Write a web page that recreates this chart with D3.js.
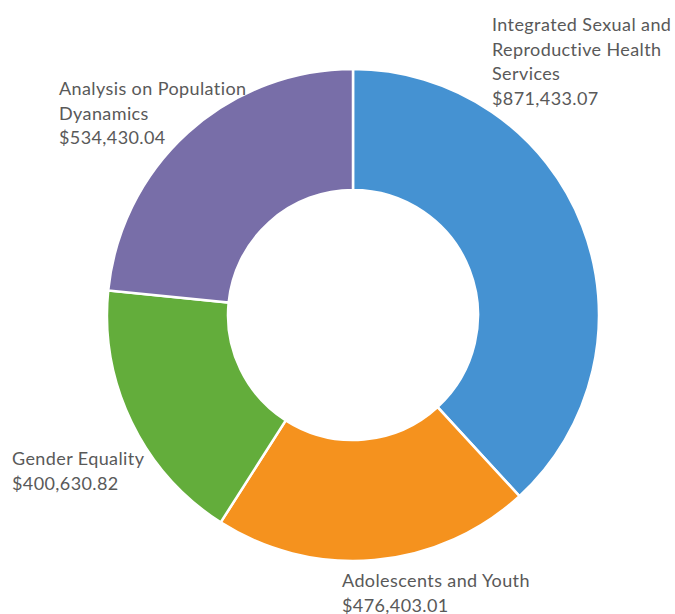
<!DOCTYPE html>
<html>
<head>
<meta charset="utf-8">
<script src="https://cdn.jsdelivr.net/npm/d3@7"></script>
<style>
  body { margin: 0; background: #fff; }
</style>
</head>
<body>
<div id="chart"></div>
<script>
// data
const categories = [
  "Integrated Sexual and Reproductive Health Services",
  "Adolescents and Youth",
  "Gender Equality",
  "Analysis on Population Dyanamics"
]
const amounts = [871433.07, 476403.01, 400630.82, 534430.04]
// how each label breaks into lines
const labelLines = [
  ["Integrated Sexual and", "Reproductive Health", "Services"],
  ["Adolescents and Youth"],
  ["Gender Equality"],
  ["Analysis on Population", "Dyanamics"]
]
const colors = ["#4592d2", "#f5921e", "#63ad3b", "#786ea8"]

// graph sizes
let width = 675
let height = 614
let cx = 353, cy = 315
let outerR = 246, innerR = 125

// where each label block starts (left x, first baseline)
const labelPos = [[492, 31], [342, 587], [12, 465], [59, 95]]

let svg = d3.select("#chart")
  .append("svg")
  .attr("width", width)
  .attr("height", height)

let pie = d3.pie().sort(null).value(d => d)
let arc = d3.arc().innerRadius(innerR).outerRadius(outerR)

let g = svg.append("g").attr("transform", `translate(${cx},${cy})`)

g.selectAll("path")
  .data(pie(amounts))
  .enter()
  .append("path")
  .attr("d", arc)
  .attr("fill", (d, i) => colors[i])
  .attr("stroke", "#fff")
  .attr("stroke-width", 2.5)

let fmt = d3.format(",.2f")

// labels
let labels = svg.append("g")
  .selectAll("text")
  .data(categories)
  .enter()
  .append("text")
  .attr("x", (d, i) => labelPos[i][0])
  .attr("y", (d, i) => labelPos[i][1])
  .style("font-family", "Lato, 'Open Sans', sans-serif")
  .style("font-size", "18px")
  .style("letter-spacing", "0.4px")
  .attr("fill", "#595959")

labels.each(function (d, i) {
  let t = d3.select(this)
  let lines = labelLines[i].concat(["$" + fmt(amounts[i])])
  lines.forEach((l, k) => {
    t.append("tspan")
      .attr("x", labelPos[i][0])
      .attr("dy", k === 0 ? 0 : 24.5)
      .text(l)
  })
})
</script>
</body>
</html>
